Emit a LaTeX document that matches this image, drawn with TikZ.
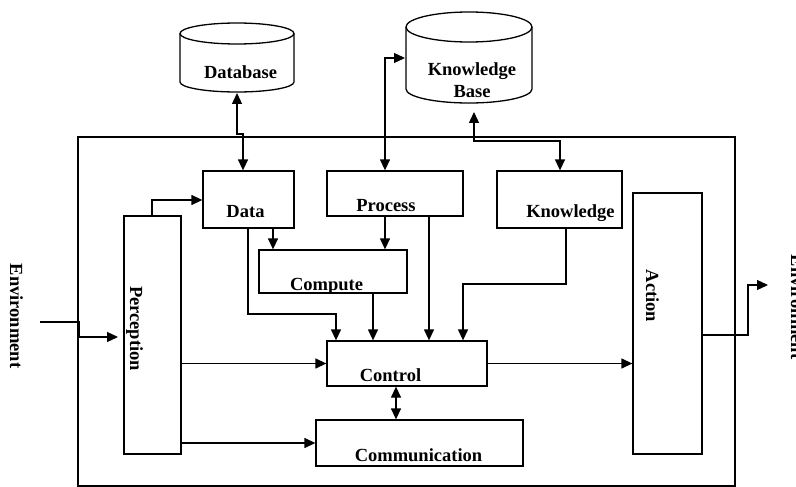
\documentclass[tikz,border=0pt]{standalone}
\usepackage{fontspec}
\setmainfont{Liberation Serif}
\usetikzlibrary{arrows.meta}

\begin{document}
\begin{tikzpicture}[
  x=1pt, y=-1pt,
  line width=1.3pt,
  box/.style={draw, rectangle, inner sep=0pt},
  lbl/.style={inner sep=0pt, font=\fontsize{18.5}{22}\selectfont\bfseries},
  conn/.style={-{Triangle[length=11pt,width=10pt]}},
  biconn/.style={{Triangle[length=11pt,width=10pt]}-{Triangle[length=11pt,width=10pt]}},
]
\useasboundingbox (0,0) rectangle (796,487);
\fill[white] (0,0) rectangle (796,487);
\clip (0,0) rectangle (796,487);

% enclosing frame of the system
\node[box, minimum width=657pt, minimum height=349pt] (frame) at (406.5,311.5) {};

% storage cylinders
\draw (180,33.5) -- (180,82) arc[start angle=180, end angle=0, x radius=57, y radius=10] -- (294,33.5);
\draw (237,33.5) ellipse [x radius=57, y radius=10.5];
\coordinate (dbB) at (237,93);
\node[lbl, anchor=base] (dbT) at (240.5,78) {Database};

\draw (406,27) -- (406,89) arc[start angle=180, end angle=0, x radius=63, y radius=14] -- (532,27);
\draw (469,27) ellipse [x radius=63, y radius=15];
\coordinate (kbL) at (405,58);
\coordinate (kbB) at (474,112);
\node[lbl, anchor=base] (kbT1) at (472,76) {Knowledge};
\node[lbl, anchor=base] (kbT2) at (472,98) {Base};

% functional blocks
\node[box, minimum width=91pt,  minimum height=57pt]  (data)    at (248.5,199.5) {};
\node[box, minimum width=136pt, minimum height=45pt]  (process) at (395,193.5) {};
\node[box, minimum width=125pt, minimum height=57pt]  (know)    at (559.5,199.5) {};
\node[box, minimum width=148pt, minimum height=43pt]  (compute) at (333,271.5) {};
\node[box, minimum width=160pt, minimum height=45pt]  (control) at (407,363.5) {};
\node[box, minimum width=207pt, minimum height=46pt]  (comm)    at (419.5,443) {};
\node[box, minimum width=57pt,  minimum height=238pt] (percep)  at (152.5,335) {};
\node[box, minimum width=69pt,  minimum height=261pt] (action)  at (667.5,323.5) {};

\node[lbl, anchor=base] (dataT)    at (245.5,217) {Data};
\node[lbl, anchor=base] (processT) at (386,211) {Process};
\node[lbl, anchor=base] (knowT)    at (570.5,217) {Knowledge};
\node[lbl, anchor=base] (computeT) at (326.5,290) {Compute};
\node[lbl, anchor=base] (controlT) at (390.5,381) {Control};
\node[lbl, anchor=base] (commT)    at (418.5,461) {Communication};
\node[lbl, anchor=base, rotate=-90] (percepT) at (130,328.5) {Perception};
\node[lbl, anchor=base, rotate=-90] (actionT) at (646,296) {Action};

% environment on both sides
\node[lbl, anchor=base, rotate=-90] (envLT) at (10,316) {Environment};
\node[lbl, anchor=base, rotate=-90] (envRT) at (791,307) {Environment};
\coordinate (envL) at (40,322);
\coordinate (envR) at (768,285);
\coordinate (percepIn) at (118,337);

% storage links
\draw[biconn] (dbB) -- (237,134) -- (243,134) -- (data.north -| 243,0);
\draw[biconn] (process.north -| 385,0) -- (385,58) -- (kbL);
\draw[biconn] (kbB) -- (474,141) -- (560,141) -- (know.north -| 560,0);

% data flow between blocks
\draw[conn] (percep.north -| 152,0) -- (152,200) -- (data.west |- 0,200);
\draw[conn] (data.south -| 273,0) -- (compute.north -| 273,0);
\draw[conn] (process.south -| 385,0) -- (compute.north -| 385,0);
\draw[conn] (data.south -| 248,0) -- (248,314) -- (336,314) -- (control.north -| 336,0);
\draw[conn] (compute.south -| 373,0) -- (control.north -| 373,0);
\draw[conn] (process.south -| 429,0) -- (control.north -| 429,0);
\draw[conn] (know.south -| 566,0) -- (566,284) -- (463,284) -- (control.north -| 463,0);
\draw[conn] (percep.east |- control.west) -- (control.west);
\draw[conn] (percep.east |- comm.west) -- (comm.west);
\draw[biconn] (control.south -| 396,0) -- (comm.north -| 396,0);
\draw[conn] (control.east) -- (action.west |- control.east);

% input from and output to the environment
\draw[conn] (envL) -- (79,322) -- (79,337) -- (percepIn);
\draw[conn] (action.east |- 0,335) -- (748,335) -- (748,285) -- (envR);
\end{tikzpicture}
\end{document}
